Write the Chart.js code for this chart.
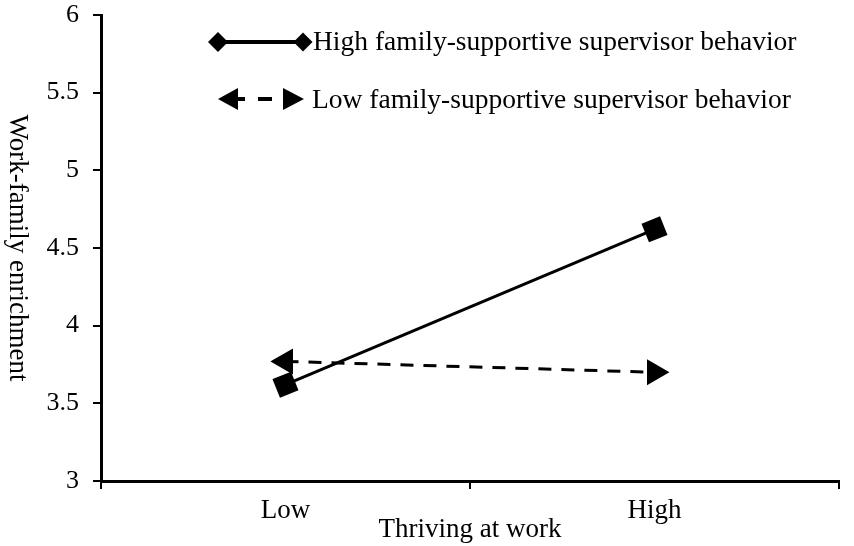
<!DOCTYPE html>
<html>
<head>
<meta charset="utf-8">
<script src="https://cdn.jsdelivr.net/npm/chart.js@4/dist/chart.umd.min.js"></script>
<style>
  html, body { margin: 0; padding: 0; background: #fff; }
  #wrap { width: 854px; height: 546px; }
</style>
</head>
<body>
<div id="wrap"><canvas id="chart" width="854" height="546"></canvas></div>
<script>
const categories = ['Low', 'High'];
const highFSSB = [3.62, 4.62];
const lowFSSB = [3.77, 3.70];
const yTicks = [3, 3.5, 4, 4.5, 5, 5.5, 6];
const seriesNames = ['High family-supportive supervisor behavior', 'Low family-supportive supervisor behavior'];
const xTitle = 'Thriving at work';
const yTitle = 'Work-family enrichment';

const FONT = "'Liberation Serif', 'Times New Roman', serif";

function diamond(ctx, x, y, r) {
  ctx.beginPath();
  ctx.moveTo(x, y - r);
  ctx.lineTo(x + r, y);
  ctx.lineTo(x, y + r);
  ctx.lineTo(x - r, y);
  ctx.closePath();
  ctx.fill();
}
function arrow(ctx, tipX, y, len, half, dir) {
  ctx.beginPath();
  ctx.moveTo(tipX, y);
  ctx.lineTo(tipX - dir * len, y - half);
  ctx.lineTo(tipX - dir * len, y + half);
  ctx.closePath();
  ctx.fill();
}

// legend drawn by hand: line sample with markers on both ends
const extras = {
  id: 'extras',
  afterDraw(chart) {
    const ctx = chart.ctx;
    ctx.save();
    ctx.fillStyle = '#000';
    ctx.strokeStyle = '#000';
    ctx.lineWidth = 4;
    ctx.beginPath();
    ctx.moveTo(218, 42);
    ctx.lineTo(303, 42);
    ctx.stroke();
    diamond(ctx, 218, 42, 10);
    diamond(ctx, 303, 42, 9.5);
    ctx.beginPath();
    ctx.moveTo(232, 99);
    ctx.lineTo(245, 99);
    ctx.moveTo(258, 99);
    ctx.lineTo(272, 99);
    ctx.stroke();
    arrow(ctx, 218, 99, 20, 11, -1);
    arrow(ctx, 304, 99, 21, 11, 1);
    ctx.font = '27.5px ' + FONT;
    ctx.textBaseline = 'middle';
    ctx.textAlign = 'left';
    ctx.fillText(seriesNames[0], 313, 43);
    ctx.fillText(seriesNames[1], 312, 101);
    // y title, reads top to bottom
    ctx.font = '27px ' + FONT;
    ctx.translate(17, 248);
    ctx.rotate(Math.PI / 2);
    ctx.textAlign = 'center';
    ctx.fillText(yTitle, 0, 0);
    ctx.restore();
  }
};

new Chart(document.getElementById('chart'), {
  type: 'line',
  data: {
    labels: categories,
    datasets: [
      {
        label: seriesNames[0],
        data: highFSSB,
        borderColor: '#000',
        backgroundColor: '#000',
        borderWidth: 3,
        pointStyle: 'rect',
        pointRotation: -22,
        pointRadius: 12,
        pointHoverRadius: 12,
        tension: 0
      },
      {
        label: seriesNames[1],
        data: lowFSSB,
        borderColor: '#000',
        backgroundColor: '#000',
        borderWidth: 3,
        borderDash: [13, 10],
        pointStyle: 'triangle',
        pointRotation: [-90, 90],
        pointRadius: 12,
        pointHoverRadius: 12,
        tension: 0
      }
    ]
  },
  options: {
    responsive: false,
    animation: false,
    layout: { padding: { left: 0, right: 6, top: 15, bottom: 0 } },
    plugins: { legend: { display: false }, tooltip: { enabled: false } },
    scales: {
      x: {
        offset: true,
        grid: { offset: true, drawOnChartArea: false, drawTicks: true, tickLength: 8, color: '#000', lineWidth: 2 },
        border: { color: '#000', width: 3 },
        ticks: { color: '#000', font: { family: FONT, size: 27 }, padding: 6 },
        title: { display: true, text: xTitle, color: '#000', font: { family: FONT, size: 27 }, padding: { top: -24, bottom: 0 } },
        afterFit(scale) { scale.height = 65; }
      },
      y: {
        min: 3,
        max: 6,
        afterBuildTicks(scale) { scale.ticks = yTicks.map(v => ({ value: v })); },
        grid: { drawOnChartArea: false, drawTicks: true, tickLength: 8, color: '#000', lineWidth: 2 },
        border: { color: '#000', width: 3 },
        ticks: { color: '#000', font: { family: FONT, size: 26 }, padding: 14, callback: v => String(v) },
        afterFit(scale) { scale.width = 101; scale.paddingTop = 0; scale.paddingBottom = 0; }
      }
    }
  },
  plugins: [extras]
});
</script>
</body>
</html>
